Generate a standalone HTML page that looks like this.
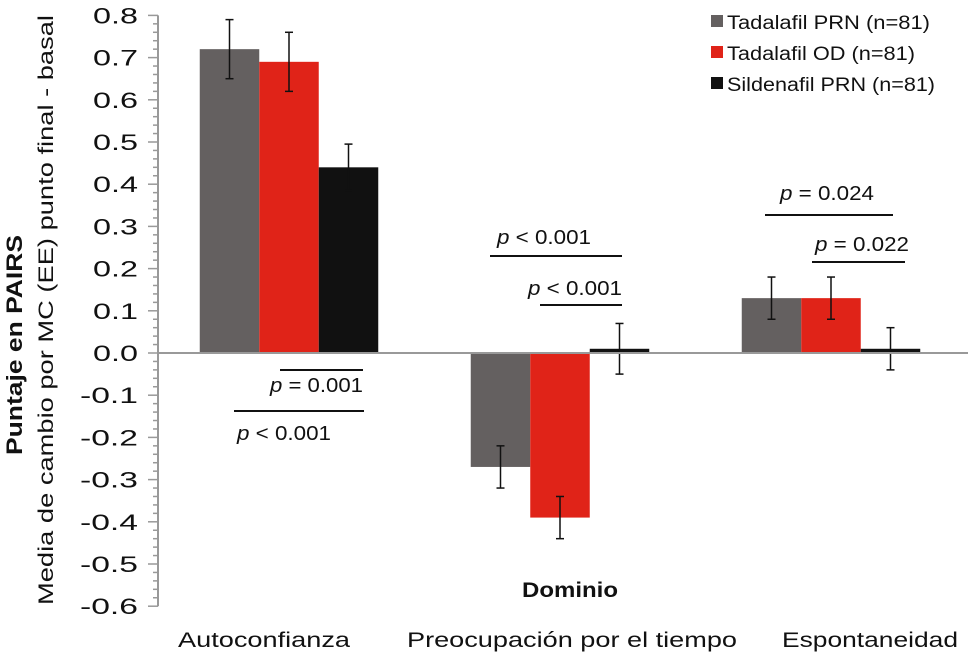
<!DOCTYPE html>
<html><head><meta charset="utf-8"><style>
body{margin:0;background:#fff}
svg{font-family:"Liberation Sans",sans-serif;display:block}
</style></head><body>
<svg width="968" height="656" id="chart">
<g id="axis"></g>
<g id="bars"></g>
<g font-size="20" fill="#111">
<line x1="280" y1="370" x2="363" y2="370" stroke="#111" stroke-width="2"/>
<text x="270" y="392" textLength="93" lengthAdjust="spacingAndGlyphs"><tspan font-style="italic">p</tspan> = 0.001</text>
<line x1="234" y1="411" x2="364" y2="411" stroke="#111" stroke-width="2"/>
<text x="237" y="440" textLength="94" lengthAdjust="spacingAndGlyphs"><tspan font-style="italic">p</tspan> &lt; 0.001</text>
<text x="497" y="244" textLength="94" lengthAdjust="spacingAndGlyphs"><tspan font-style="italic">p</tspan> &lt; 0.001</text>
<line x1="490" y1="256" x2="622" y2="256" stroke="#111" stroke-width="2"/>
<text x="528" y="295" textLength="94" lengthAdjust="spacingAndGlyphs"><tspan font-style="italic">p</tspan> &lt; 0.001</text>
<line x1="540" y1="305" x2="622" y2="305" stroke="#111" stroke-width="2"/>
<text x="780" y="200" textLength="94" lengthAdjust="spacingAndGlyphs"><tspan font-style="italic">p</tspan> = 0.024</text>
<line x1="765" y1="215" x2="893" y2="215" stroke="#111" stroke-width="2"/>
<text x="815" y="251" textLength="94" lengthAdjust="spacingAndGlyphs"><tspan font-style="italic">p</tspan> = 0.022</text>
<line x1="812" y1="262" x2="905" y2="262" stroke="#111" stroke-width="2"/>
</g>
<g font-size="19" fill="#111">
<rect x="711" y="15" width="12" height="12" fill="#646060"/><text x="727" y="29" textLength="203" lengthAdjust="spacingAndGlyphs">Tadalafil PRN (n=81)</text>
<rect x="711" y="46" width="12" height="12" fill="#e02318"/><text x="727" y="60" textLength="188" lengthAdjust="spacingAndGlyphs">Tadalafil OD (n=81)</text>
<rect x="711" y="77" width="12" height="12" fill="#111"/><text x="727" y="91" textLength="208" lengthAdjust="spacingAndGlyphs">Sildenafil PRN (n=81)</text>
</g>
<text x="570" y="597" font-size="21" font-weight="bold" text-anchor="middle" fill="#111" textLength="96" lengthAdjust="spacingAndGlyphs">Dominio</text>
<text transform="translate(22,345) rotate(-90)" font-size="22" font-weight="bold" text-anchor="middle" fill="#111" textLength="220" lengthAdjust="spacingAndGlyphs">Puntaje en PAIRS</text>
<text transform="translate(53,310) rotate(-90)" font-size="21" text-anchor="middle" fill="#111" textLength="590" lengthAdjust="spacingAndGlyphs">Media de cambio por MC (EE) punto final - basal</text>
</svg>
<script>
const categories=["Autoconfianza","Preocupación por el tiempo","Espontaneidad"];
const seriesNames=["Tadalafil PRN (n=81)","Tadalafil OD (n=81)","Sildenafil PRN (n=81)"];
const tadPRN=[0.72,-0.27,0.13];
const tadOD=[0.69,-0.39,0.13];
const silPRN=[0.44,0.01,0.01];
const errTadPRN=[0.07,0.05,0.05];
const errTadOD=[0.07,0.05,0.05];
const errSilPRN=[0.055,0.06,0.05];
const yTicks=[0.8,0.7,0.6,0.5,0.4,0.3,0.2,0.1,0.0,-0.1,-0.2,-0.3,-0.4,-0.5,-0.6];
const NS="http://www.w3.org/2000/svg";
const y=v=>353-v*422;
const x=i=>289+i*271;
const bw=59.5;
const colors=["#646060","#e02318","#111"];
const catCenters=[264,572,870],catWidths=[172,330,176];
function mk(t,a,p){const e=document.createElementNS(NS,t);for(const k in a)e.setAttribute(k,a[k]);p.appendChild(e);return e;}
const ax=document.getElementById('axis');
mk('line',{x1:158,y1:y(0.8),x2:158,y2:y(-0.6),stroke:'#999','stroke-width':2},ax);
for(let k=-30;k<=40;k++){const v=k/50;const major=k%5===0;
 mk('line',{x1:major?148:153,y1:y(v),x2:158,y2:y(v),stroke:'#999','stroke-width':1.5},ax);}
yTicks.forEach(v=>{const s=v.toFixed(1);const t=mk('text',{x:138,y:y(v)+8,'font-size':22,'text-anchor':'end',fill:'#111',textLength:s.length>3?58:45,lengthAdjust:'spacingAndGlyphs'},ax);
 
 
 t.textContent=s;});
const bars=document.getElementById('bars');
const vals=[tadPRN,tadOD,silPRN],errs=[errTadPRN,errTadOD,errSilPRN];
categories.forEach((c,i)=>{
 vals.forEach((s,j)=>{const v=s[i];const bx=x(i)+(j-1.5)*bw;
  const r=mk('rect',{x:bx,y:Math.min(y(v),y(0)),width:bw,height:Math.abs(y(v)-y(0)),fill:colors[j]},bars);
  
  
  const cx=bx+bw/2,e=errs[j][i];
  const g=mk('g',{stroke:'#111','stroke-width':1.5},bars);
  
  
  mk('line',{x1:cx,y1:y(v+e),x2:cx,y2:y(v-e)},g);
  mk('line',{x1:cx-4,y1:y(v+e),x2:cx+4,y2:y(v+e)},g);
  mk('line',{x1:cx-4,y1:y(v-e),x2:cx+4,y2:y(v-e)},g);});
 const t=mk('text',{x:catCenters[i]-catWidths[i]/2,y:647,'font-size':21,fill:'#111',textLength:catWidths[i],lengthAdjust:'spacingAndGlyphs'},bars);
 
 
 t.textContent=c;});
mk('line',{x1:158,y1:y(0),x2:968,y2:y(0),stroke:'#999','stroke-width':2},ax.parentNode);
</script>
</body></html>
